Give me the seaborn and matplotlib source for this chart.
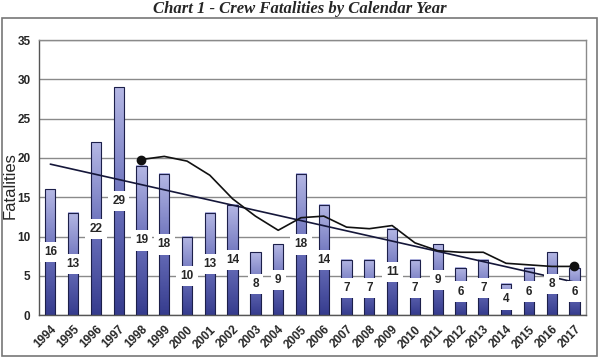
import matplotlib
matplotlib.use("Agg")
import matplotlib.pyplot as plt
from matplotlib.colors import LinearSegmentedColormap
from matplotlib.patches import Rectangle
import numpy as np
import seaborn as sns

# data
years = [str(y) for y in range(1994, 2018)]
fatalities = [16, 13, 22, 29, 19, 18, 10, 13, 14, 8, 9, 18,
              14, 7, 7, 11, 7, 9, 6, 7, 4, 6, 8, 6]
# 5-year moving average, plotted from 1998 onward
ma_years = [str(y) for y in range(1998, 2018)]
ma_values = [19.8, 20.2, 19.6, 17.8, 14.8, 12.6, 10.8, 12.4, 12.6, 11.2,
             11.0, 11.4, 9.2, 8.2, 8.0, 8.0, 6.6, 6.4, 6.2, 6.2]

sns.set_style("white")
plt.rcParams['font.family'] = ['Liberation Sans', 'DejaVu Sans']

fig = plt.figure(figsize=(5.99, 3.61), dpi=100)
ax = fig.add_axes([0.065, 0.127, 0.913, 0.762])

# outer frame around the whole chart
fig.patches.append(Rectangle((0.004, 0.014), 0.992, 0.936, transform=fig.transFigure,
                             fill=False, edgecolor='#777777', linewidth=1.2))

fig.text(0.5, 0.975, 'Chart 1 - Crew Fatalities by Calendar Year', ha='center', va='center',
         fontsize=12, fontweight='bold', fontstyle='italic', family='Liberation Serif')

sns.barplot(x=years, y=fatalities, ax=ax, width=0.45, color='#8088c8',
            edgecolor='#1c1f4a', linewidth=0.8, zorder=3)

# vertical gradient inside each bar (dark bottom -> light top)
cmap = LinearSegmentedColormap.from_list('bar', ['#363c8e', '#6a70bb', '#b4b7e4'])
grad = np.linspace(0, 1, 100).reshape(-1, 1)
for p in ax.patches:
    x0, y0 = p.get_x(), p.get_y()
    w, h = p.get_width(), p.get_height()
    ax.imshow(grad, extent=[x0, x0 + w, y0, y0 + h], origin='lower', aspect='auto',
              cmap=cmap, zorder=2.5)
    p.set_facecolor('none')

# linear trend
sns.regplot(x=np.arange(len(years)), y=fatalities, ax=ax, scatter=False, ci=None,
            line_kws=dict(color='#15173a', linewidth=1.2, zorder=4))

# moving average line with end markers
ma_x = [years.index(y) for y in ma_years]
ax.plot(ma_x, ma_values, color='#111111', linewidth=1.2, marker='o', markersize=6,
        markevery=[0, len(ma_x) - 1], zorder=5)

# value labels in white boxes
for i, v in enumerate(fatalities):
    ax.text(i, v / 2, str(v), ha='center', va='center', fontsize=8.5, fontweight='bold',
            zorder=6, bbox=dict(boxstyle='square,pad=0.35', facecolor='white', edgecolor='none'))

ax.set_xlim(-0.5, len(years) - 0.5)
ax.set_ylim(0, 35)
ax.set_yticks(range(0, 36, 5))
ax.yaxis.grid(True, color='#8a8a8a', linewidth=1)
ax.set_axisbelow(True)
for s in ax.spines.values():
    s.set_color('#8a8a8a')
    s.set_linewidth(1)
ax.spines['bottom'].set_color('#555555')
ax.spines['left'].set_color('#555555')

ax.set_xticks(range(len(years)))
ax.set_xticklabels(years, rotation=45, ha='right', rotation_mode='anchor',
                   fontsize=8.5, fontweight='bold')
ax.tick_params(axis='x', length=0, pad=6)
ax.set_xticks(np.arange(-0.5, len(years), 1), minor=True)
ax.tick_params(axis='x', which='minor', length=4, color='#555555', direction='out')
ax.tick_params(axis='y', labelsize=8.5, length=4, color='#555555', direction='out', pad=2)
for t in ax.get_yticklabels():
    t.set_fontweight('bold')
ax.set_xlabel('')
ax.set_ylabel('')
fig.text(10 / 599, 0.485, 'Fatalities', rotation=90, ha='center', va='center', fontsize=12)

fig.savefig('out.png', dpi=100)
